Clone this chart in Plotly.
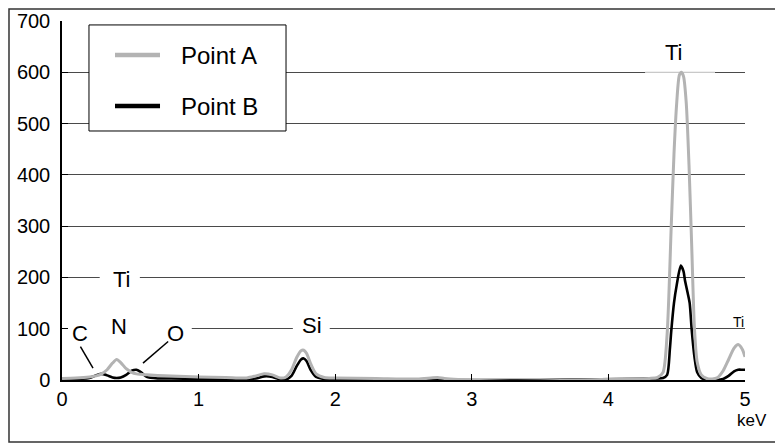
import plotly.graph_objects as go

# ---- data ----
A_KEV = [0.0, 0.1, 0.2, 0.25, 0.29, 0.33, 0.37, 0.40, 0.43, 0.47, 0.51, 0.545, 0.58, 0.62, 0.7, 0.8,
         1.0, 1.2, 1.35, 1.42, 1.48, 1.54, 1.6, 1.64, 1.68, 1.72, 1.75, 1.77, 1.79, 1.82, 1.86, 1.92,
         2.0, 2.3, 2.6, 2.7, 2.75, 2.8, 2.9, 3.2, 3.5, 3.8, 4.1, 4.3, 4.36, 4.40, 4.43, 4.46, 4.48,
         4.50, 4.52, 4.535, 4.55, 4.57, 4.59, 4.61, 4.63, 4.65, 4.68, 4.72, 4.76, 4.80, 4.84, 4.88,
         4.92, 4.95, 4.98, 5.0]
A_COUNTS = [3, 4, 6, 8, 12, 20, 33, 40, 34, 22, 15, 12, 11, 10, 9, 8,
            6, 5, 4, 8, 12, 10, 4, 6, 20, 45, 57, 58, 52, 32, 12, 5,
            4, 3, 2, 4, 5, 3, 1, -2, -2, 0, 2, 3, 5, 15, 90, 300, 440,
            540, 595, 600, 592, 540, 420, 260, 100, 35, 10, 3, 2, 5, 18, 40,
            62, 69, 60, 45]

B_KEV = [0.0, 0.1, 0.2, 0.25, 0.29, 0.33, 0.37, 0.40, 0.43, 0.47, 0.51, 0.545, 0.58, 0.62, 0.7, 0.8,
         1.0, 1.2, 1.35, 1.42, 1.48, 1.54, 1.6, 1.64, 1.68, 1.72, 1.75, 1.77, 1.79, 1.82, 1.86, 1.92,
         2.0, 2.3, 2.6, 2.7, 2.75, 2.8, 2.9, 3.2, 3.5, 3.8, 4.1, 4.3, 4.36, 4.40, 4.43, 4.45, 4.46,
         4.48, 4.50, 4.53, 4.55, 4.56, 4.58, 4.595, 4.61, 4.63, 4.65, 4.68, 4.72, 4.76, 4.80, 4.84,
         4.88, 4.92, 4.95, 4.98, 5.0]
B_COUNTS = [2, 2, 4, 9, 12, 9, 5, 4, 5, 10, 18, 20, 15, 6, 3, 3,
            2, 2, 2, 3, 7, 6, 1, 1, 8, 28, 40, 42, 37, 20, 6, 2,
            2, 1, 1, 2, 2, 1, 0, 0, 0, 1, 2, 3, 3, 4, 10, 60, 95,
            150, 185, 223, 212, 195, 170, 150, 97, 45, 15, 4, 0, -2, 0, 2,
            8, 17, 20, 20, 20]

SERIES_NAMES = ["Point A", "Point B"]
SERIES_COLORS = ["#b3b3b3", "#000000"]

Y_TICKS = [0, 100, 200, 300, 400, 500, 600, 700]
X_TICKS = [0, 1, 2, 3, 4, 5]

PEAK_LABELS = [  # (text, keV, counts, size)
    ("Ti", 4.48, 639, 22),
    ("Ti", 0.44, 195, 22),
    ("N", 0.42, 104, 22),
    ("C", 0.13, 91, 22),
    ("O", 0.83, 91, 22),
    ("Si", 1.83, 107, 22),
    ("Ti", 4.955, 113, 14),
]

FONT = "Liberation Sans, Arial, Helvetica, sans-serif"

fig = go.Figure()
fig.add_trace(go.Scatter(x=B_KEV, y=B_COUNTS, mode="lines", name=SERIES_NAMES[1],
                         line=dict(color=SERIES_COLORS[1], width=2.6, shape="spline", smoothing=0.7)))
fig.add_trace(go.Scatter(x=A_KEV, y=A_COUNTS, mode="lines", name=SERIES_NAMES[0],
                         line=dict(color=SERIES_COLORS[0], width=3, shape="spline", smoothing=0.7)))

shapes = []
# white masks over gridline segments behind labels (between grid and traces)
masks = [(0.02, 5.0, 700), (0.276, 0.57, 200), (0.01, 0.95, 100), (1.69, 1.96, 100), (4.27, 4.78, 600)]
for x0, x1, yy in masks:
    shapes.append(dict(type="rect", xref="x", yref="y", x0=x0, x1=x1, y0=yy - 6, y1=yy + 6,
                       fillcolor="white", line=dict(width=0), layer="between"))
shapes.append(dict(type="line", xref="x", yref="y", x0=4.27, x1=4.78, y0=600, y1=600,
                   line=dict(color="#bbbbbb", width=1), layer="between"))
# leader lines for C and O
shapes.append(dict(type="line", xref="x", yref="y", x0=0.135, y0=65, x1=0.227, y1=23,
                   line=dict(color="black", width=1.5)))
shapes.append(dict(type="line", xref="x", yref="y", x0=0.777, y0=75, x1=0.593, y1=33,
                   line=dict(color="black", width=1.5)))
# outer frame
shapes.append(dict(type="rect", xref="paper", yref="paper", x0=-0.0776, x1=1.2, y0=-0.1727, y1=1.0334,
                   line=dict(color="#333333", width=1.5), fillcolor="rgba(0,0,0,0)", layer="below"))

# legend (box, samples, names)
shapes.append(dict(type="rect", xref="paper", yref="paper", x0=0.0395, x1=0.328, y0=0.6936, y1=0.989,
                   fillcolor="white", line=dict(color="black", width=1), layer="above"))
legend_rows = [0.905, 0.7632]
annotations = []
for name, color, yy in zip(SERIES_NAMES, SERIES_COLORS, legend_rows):
    shapes.append(dict(type="line", xref="paper", yref="paper", x0=0.0776, x1=0.1435, y0=yy, y1=yy,
                       line=dict(color=color, width=4.5), layer="above"))
    annotations.append(dict(text=name, x=0.1713, y=yy, xref="paper", yref="paper", xanchor="left",
                            yanchor="middle", showarrow=False,
                            font=dict(size=24, color="black", family=FONT)))

for t, xv, yv, sz in PEAK_LABELS:
    annotations.append(dict(text=t, x=xv, y=yv, xref="x", yref="y", showarrow=False,
                            xanchor="center", yanchor="middle",
                            font=dict(size=sz, color="black", family=FONT)))
annotations.append(dict(text="keV", x=1.01, y=-0.114, xref="paper", yref="paper", showarrow=False,
                        xanchor="center", yanchor="middle",
                        font=dict(size=17, color="black", family=FONT)))

fig.update_layout(
    width=775, height=436,
    margin=dict(l=54, r=38, t=13, b=64, autoexpand=False),
    paper_bgcolor="white", plot_bgcolor="white",
    font=dict(family=FONT, color="black"),
    showlegend=False,
    shapes=shapes, annotations=annotations,
)
fig.update_xaxes(range=[0, 5], tickvals=X_TICKS, ticks="inside", ticklen=6, tickcolor="black",
                 showline=True, linecolor="black", linewidth=1.5, showgrid=False, zeroline=False,
                 automargin=False, tickfont=dict(size=20, family=FONT, color="black"))
fig.update_yaxes(range=[0, 700], tickvals=Y_TICKS, ticks="inside", ticklen=6, tickcolor="black",
                 showline=True, linecolor="black", linewidth=1.5, showgrid=True, gridcolor="#4a4a4a",
                 gridwidth=1, zeroline=False, ticklabelstandoff=6, automargin=False,
                 tickfont=dict(size=20, family=FONT, color="black"))

fig.write_html("out.html")
